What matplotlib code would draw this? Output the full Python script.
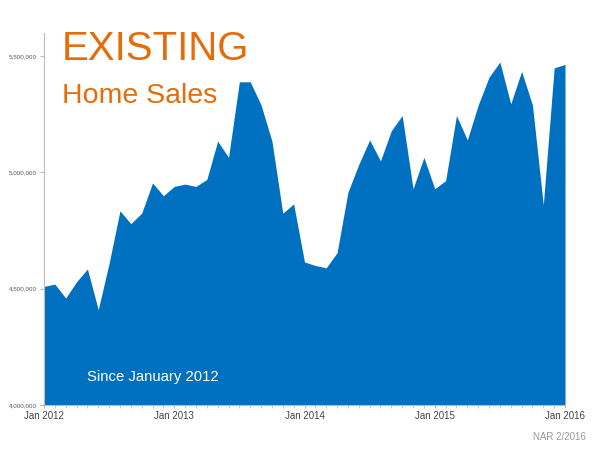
import numpy as np
import matplotlib.pyplot as plt

# monthly existing home sales (SAAR), Jan 2012 .. Jan 2016
sales = [4510000, 4520000, 4460000, 4530000, 4585000, 4410000, 4610000,
         4835000, 4780000, 4825000, 4955000, 4900000,
         4940000, 4950000, 4940000, 4970000, 5135000, 5065000, 5390000,
         5390000, 5290000, 5135000, 4825000, 4865000,
         4615000, 4600000, 4590000, 4655000, 4915000, 5035000, 5140000,
         5050000, 5180000, 5245000, 4930000, 5065000,
         4930000, 4965000, 5245000, 5140000, 5290000, 5410000, 5475000,
         5295000, 5435000, 5290000, 4860000, 5450000, 5465000]
months = np.arange(len(sales))
tick_pos = [0, 12, 24, 36, 48]
tick_labels = ["Jan 2012", "Jan 2013", "Jan 2014", "Jan 2015", "Jan 2016"]
y_ticks = [4000000, 4500000, 5000000, 5500000]

plt.rcParams['font.family'] = ['Liberation Sans', 'DejaVu Sans']

fig = plt.figure(figsize=(6, 4.5), dpi=100)
ax = fig.add_axes([0.0733, 0.1, 0.8684, 0.8267])
ax.fill_between(months, 4000000, sales, color='#0070C0', linewidth=0)
ax.set_xlim(0, 48)
ax.set_ylim(4000000, 5600000)

for s in ['top', 'right']:
    ax.spines[s].set_visible(False)
for s in ['left', 'bottom']:
    ax.spines[s].set_color('#bbbbbb')
    ax.spines[s].set_linewidth(0.8)

ax.set_xticks(tick_pos)
ax.set_xticklabels(tick_labels, fontsize=7, color='#444444')
ax.set_xticks(months, minor=True)
ax.tick_params(axis='x', which='both', length=2.5, color='#bbbbbb', pad=1.5)
ax.set_yticks(y_ticks)
ax.set_yticklabels(["{:,}".format(v) for v in y_ticks], fontsize=4.5, color='#555555')
ax.tick_params(axis='y', length=3, color='#bbbbbb', pad=2)

orange = '#E46C0A'
fig.text(0.103, 0.89, "EXISTING", fontsize=29, color=orange, va='center')
fig.text(0.103, 0.787, "Home Sales", fontsize=20.5, color=orange, va='center')
fig.text(0.145, 0.162, "Since January 2012", fontsize=10.7, color='white', va='center')
fig.text(0.977, 0.03, "NAR 2/2016", fontsize=7, color='#999999', ha='right', va='center')

plt.savefig('out.png', dpi=100)
